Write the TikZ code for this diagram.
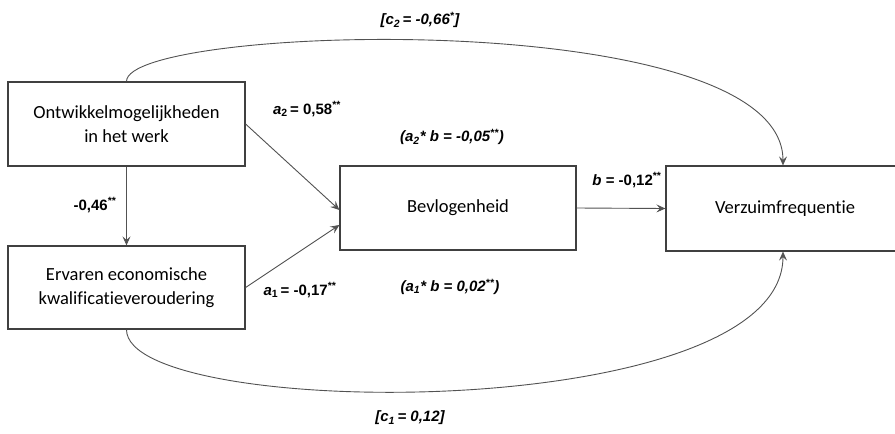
\documentclass[tikz,border=0pt]{standalone}
\usepackage{fontspec}
\setmainfont{Carlito}[Ligatures=NoCommon]
\newfontfamily\labfont{Liberation Sans}
\usetikzlibrary{arrows.meta,calc}

\newcommand{\lbl}[1]{{\labfont\bfseries\fontsize{15}{18}\selectfont #1}}
\newcommand{\sig}{\textsuperscript{**}}
\newcommand{\sigone}{\textsuperscript{*}}

\begin{document}
\begin{tikzpicture}[x=1pt,y=-1pt,
  varbox/.style={draw=black!75, line width=1.2pt, rectangle, align=center,
    font=\fontsize{18.5}{23.5}\selectfont, inner sep=0pt},
  path/.style={draw=black!68, line width=0.9pt,
    -{Stealth[length=9pt,width=8pt,inset=3.5pt]}},
  coef/.style={inner sep=0pt, anchor=center}]
  \useasboundingbox (0,0) rectangle (895,434);

  % variables
  \node[varbox, minimum width=237pt, minimum height=84pt] (ontw) at (126.5,124)
    {Ontwikkelmogelijkheden\\in het werk};
  \node[varbox, minimum width=237pt, minimum height=83pt] (kwal) at (126.5,287.5)
    {Ervaren economische\\kwalificatieveroudering};
  \node[varbox, minimum width=236pt, minimum height=84pt] (bevl) at (458,208)
    {Bevlogenheid};
  \node[varbox, minimum width=238pt, minimum height=85pt] (verz) at (785,208.5)
    {Verzuimfrequentie};

  % paths
  \draw[path] (ontw.south) -- (kwal.north);
  \draw[path] (ontw.east) -- ($(bevl.west)+(0,2)$);
  \draw[path] (kwal.east) -- ($(bevl.west)+(0,17)$);
  \draw[path] (bevl.east) -- (verz.west);
  \draw[path] (ontw.north) .. controls +(0,-57) and +(0,-161) .. ($(verz.north)+(-2,0)$);
  \draw[path] (kwal.south) .. controls +(0,91) and +(0,174) .. ($(verz.south)+(-2,0)$);

  % coefficients
  \node[coef] (c2) at (420,20) {\lbl{\itshape [c\textsubscript{2}\,= -0,66\sigone]}};
  \node[coef] (a2) at (307,109) {\lbl{\textit{a}\textsubscript{2}\,= 0,58\sig}};
  \node[coef] (a2b) at (452,137) {\lbl{\itshape (a\textsubscript{2}* b = -0,05\sig)}};
  \node[coef] (d) at (95,205) {\lbl{-0,46\sig}};
  \node[coef] (bb) at (627,180) {\lbl{\textit{b} = -0,12\sig}};
  \node[coef] (a1) at (300,290) {\lbl{\textit{a}\textsubscript{1}\,= -0,17\sig}};
  \node[coef] (a1b) at (450,287) {\lbl{\itshape (a\textsubscript{1}* b = 0,02\sig)}};
  \node[coef] (c1) at (410,418) {\lbl{\itshape [c\textsubscript{1}\,= 0,12]}};
\end{tikzpicture}
\end{document}
